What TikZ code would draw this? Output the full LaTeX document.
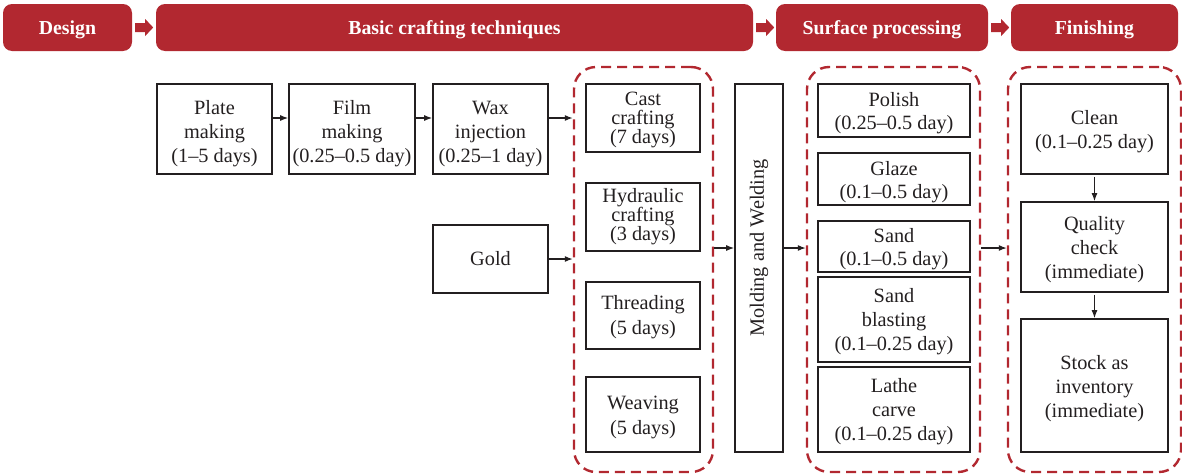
\documentclass[tikz,border=0pt]{standalone}
\usepackage{fontspec}
\setmainfont{Liberation Serif}
\usetikzlibrary{arrows.meta,calc}
\definecolor{hred}{RGB}{178,40,48}
\definecolor{ink}{RGB}{35,31,32}
\newcommand\st[1][19.5pt]{\rule{0pt}{#1}}
\newcommand\blockarr[1]{\fill[hred] ($(#1)+(3,-4.5)$) -- ++(10,0) -- ++(0,-4) -- ++(8,8.5) -- ++(-8,8.5) -- ++(0,-4) -- ++(-10,0) -- cycle;}
\begin{document}
\begin{tikzpicture}[x=1pt,y=-1pt,
 hdr/.style={fill=hred, draw=none, rounded corners=9pt, text=white, inner sep=0pt, text depth=0pt,
   font=\fontsize{19.8}{22}\selectfont\bfseries},
 box/.style={draw=ink, line width=1.7pt, align=center, inner sep=0pt, text=ink,
   font=\fontsize{20.3}{24}\selectfont},
 tbox/.style={box, font=\fontsize{20.3}{19}\selectfont},
 grp/.style={draw=hred, line width=2.4pt, dash pattern=on 10pt off 6pt, rounded corners=22pt, inner sep=0pt},
 arr/.style={-{Latex[length=8pt,width=6pt]}, line width=1.2pt, draw=ink},
]
\useasboundingbox (0,0) rectangle (1182,474);
% headers
\node[hdr, minimum width=129, minimum height=47] (design) at (67.5,27.5) {Design};
\node[hdr, minimum width=597, minimum height=47] (basic) at (454.5,27.5) {Basic crafting techniques};
\node[hdr, minimum width=212, minimum height=47] (surface) at (882,27.5) {Surface processing};
\node[hdr, minimum width=167, minimum height=47] (finish) at (1094.5,27.5) {Finishing};
\blockarr{design.east}
\blockarr{basic.east}
\blockarr{surface.east}

% row 1
\node[box, minimum width=115, minimum height=90] (plate) at (214.5,129) {\st[24pt]Plate\\making\\(1--5 days)};
\node[box, minimum width=126, minimum height=90] (film) at (352,129) {\st[24pt]Film\\making\\(0.25--0.5 day)};
\node[box, minimum width=115, minimum height=90] (wax) at (490.5,129) {\st[24pt]Wax\\injection\\(0.25--1 day)};
\node[box, minimum width=115, minimum height=68] (gold) at (490.5,259) {Gold};

% group 1
\node[grp, minimum width=139, minimum height=405] (g1) at (643.5,269.5) {};
\node[tbox, minimum width=114, minimum height=68] (cast) at (643,118) {\st[18pt]Cast\\crafting\\(7 days)};
\node[tbox, minimum width=114, minimum height=68] (hydr) at (643,217) {Hydraulic\\crafting\\(3 days)};
\node[box, font=\fontsize{20.3}{25}\selectfont, minimum width=114, minimum height=67] (thread) at (643,315.5) {\st[18pt]Threading\\(5 days)};
\node[box, font=\fontsize{20.3}{25}\selectfont, minimum width=114, minimum height=75] (weave) at (643,414.5) {\st Weaving\\(5 days)};

% molding
\node[box, minimum width=48, minimum height=368] (mold) at (759,268) {};
\node[rotate=90, text=ink, font=\fontsize{20.3}{24}\selectfont] (moldtxt) at ([yshift=20pt]mold.center) {Molding and Welding};

% group 2
\node[grp, minimum width=173, minimum height=405] (g2) at (893.5,269.5) {};
\node[box, font=\fontsize{20.3}{23}\selectfont, minimum width=152, minimum height=53] (polish) at (894,110.5) {\st Polish\\(0.25--0.5 day)};
\node[box, font=\fontsize{20.3}{23}\selectfont, minimum width=152, minimum height=52] (glaze) at (894,179) {\st Glaze\\(0.1--0.5 day)};
\node[box, font=\fontsize{20.3}{23}\selectfont, minimum width=152, minimum height=51] (sand) at (894,246.5) {\st Sand\\(0.1--0.5 day)};
\node[box, minimum width=152, minimum height=85] (blast) at (894,319.5) {\st[18pt]Sand\\blasting\\(0.1--0.25 day)};
\node[box, minimum width=152, minimum height=85] (lathe) at (894,409.5) {\st[18pt]Lathe\\carve\\(0.1--0.25 day)};

% group 3
\node[grp, minimum width=173, minimum height=405] (g3) at (1094.5,269.5) {};
\node[box, minimum width=147, minimum height=90] (clean) at (1094.5,129) {\st Clean\\(0.1--0.25 day)};
\node[box, minimum width=147, minimum height=90] (qual) at (1094.5,247) {\st Quality\\check\\(immediate)};
\node[box, minimum width=147, minimum height=133] (stock) at (1094.5,385.5) {\st Stock as\\inventory\\(immediate)};

% connectors
\draw[arr] ([yshift=11pt]plate.east) -- ([yshift=11pt]film.west);
\draw[arr] ([yshift=11pt]film.east) -- ([yshift=11pt]wax.west);
\coordinate (w) at ([yshift=11pt]wax.east);
\draw[arr] (w) -- (w -| g1.west);
\draw[arr] (gold.east) -- (gold.east -| g1.west);
\coordinate (m1) at ([yshift=20pt]mold.west);
\coordinate (m2) at ([yshift=20pt]mold.east);
\draw[arr] (g1.east |- m1) -- (m1);
\draw[arr] (m2) -- (m2 -| g2.west);
\draw[arr] (g2.east |- m2) -- (g3.west |- m2);
\draw[arr, shorten <=2pt] (clean) -- (qual);
\draw[arr, shorten <=2pt] (qual) -- (stock);
\end{tikzpicture}
\end{document}
